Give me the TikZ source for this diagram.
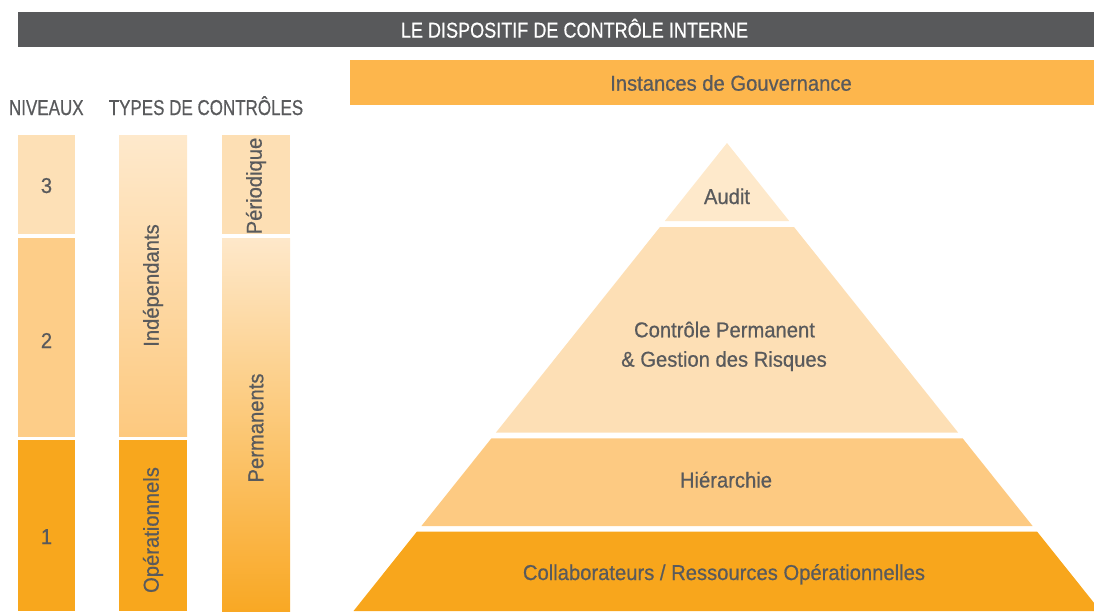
\documentclass[tikz,border=0pt]{standalone}
\usepackage{fontspec}
\setmainfont{Liberation Sans}[FakeStretch=0.94,FakeBold=0.6]
\newfontfamily\titlefont{Liberation Sans}[FakeStretch=0.84,FakeBold=0.6]
\newfontfamily\headfont{Liberation Sans}[FakeStretch=0.79,FakeBold=0.6]
\definecolor{barGray}{HTML}{58595B}
\definecolor{txtGray}{HTML}{595A5C}
\definecolor{govOrange}{HTML}{FDB64C}
\definecolor{lvlThree}{HTML}{FDE0B6}
\definecolor{lvlTwo}{HTML}{FDCD88}
\definecolor{lvlOne}{HTML}{F8A71D}
\definecolor{indTop}{HTML}{FEE9CC}
\definecolor{indBot}{HTML}{FDC97F}
\definecolor{perTop}{HTML}{FEE8CA}
\definecolor{perBot}{HTML}{F9A824}
\definecolor{perioFill}{HTML}{FDDFB4}
\definecolor{auditFill}{HTML}{FEE9CB}
\definecolor{cpFill}{HTML}{FDDFB5}
\definecolor{hierFill}{HTML}{FDCA82}
\definecolor{collabFill}{HTML}{F8A61C}
\begin{document}
\begin{tikzpicture}[x=1pt,y=-1pt,
  every node/.style={inner sep=0pt,outer sep=0pt},
  lbl/.style={text=txtGray,font=\fontsize{21.5}{26}\selectfont,anchor=base},
  headlbl/.style={text=txtGray,font=\headfont\fontsize{21.5}{26}\selectfont,anchor=base},
  vlbl/.style={text=txtGray,font=\fontsize{21.5}{26}\selectfont,rotate=90,anchor=center},
  titlelbl/.style={text=white,font=\titlefont\fontsize{21.5}{26}\selectfont,anchor=base}]
\useasboundingbox (0,0) rectangle (1094,611);
\clip (0,0) rectangle (1094,611);
% title bar
\fill[barGray] (18,12) rectangle (1094,47);
\node[titlelbl] (title) at (574.5,37.6) {LE DISPOSITIF DE CONTRÔLE INTERNE};
% governance bar
\fill[govOrange] (350,60) rectangle (1094,104.5);
\node[lbl] (gov) at (731,90.7) {Instances de Gouvernance};
% headers
\node[headlbl] (niv) at (46.3,115) {NIVEAUX};
\node[headlbl] (types) at (206,115) {TYPES DE CONTRÔLES};
% levels column
\fill[lvlThree] (18,135) rectangle (75,233.7);
\fill[lvlTwo] (18,238) rectangle (75,436.7);
\fill[lvlOne] (18,440) rectangle (75,611);
\node[lbl] (n3) at (46.5,193) {3};
\node[lbl] (n2) at (46.5,348) {2};
\node[lbl] (n1) at (46.5,544) {1};
% types column 1
\shade[top color=indTop,bottom color=indBot] (119,135) rectangle (187,436.7);
\fill[lvlOne] (119,440) rectangle (187,611);
\node[vlbl] (ind) at (153,285.5) {Indépendants};
\node[vlbl] (ope) at (153,530) {Opérationnels};
% types column 2
\fill[perioFill] (222,135) rectangle (290,233.7);
\shade[top color=perTop,bottom color=perBot] (222,238) rectangle (290,611);
\node[vlbl] (per) at (256,186) {Périodique};
\node[vlbl] (perm) at (256,428) {Permanents};
% pyramid
\fill[auditFill] (727,143) -- (789.2,221) -- (664.8,221) -- cycle;
\fill[cpFill] (660,227) -- (794,227) -- (958.2,432.7) -- (495.8,432.7) -- cycle;
\fill[hierFill] (491.4,438.3) -- (962.6,438.3) -- (1032.6,526) -- (421.4,526) -- cycle;
\fill[collabFill] (416.8,531.7) -- (1037.2,531.7) -- (1100.5,611) -- (353.5,611) -- cycle;
\node[lbl] (audit) at (727,204) {Audit};
\node[lbl] (cpA) at (724.5,337.3) {Contrôle Permanent};
\node[lbl] (cpB) at (724,366.7) {\& Gestion des Risques};
\node[lbl] (hier) at (726,487.5) {Hiérarchie};
\node[lbl] (collab) at (724,580) {Collaborateurs / Ressources Opérationnelles};
\end{tikzpicture}
\end{document}
